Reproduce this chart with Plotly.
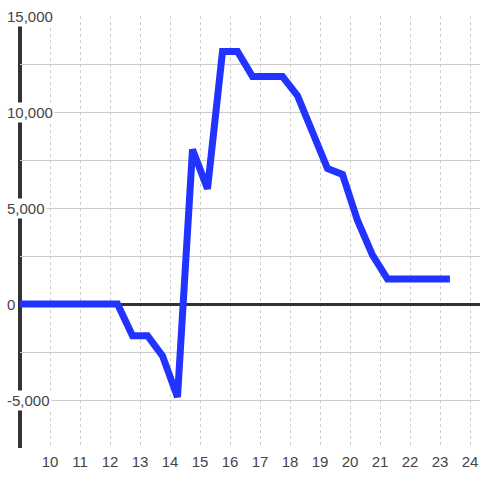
import plotly.graph_objects as go

# data
hours = [9.0, 9.25, 9.75, 10.25, 10.75, 11.25, 11.75, 12.25, 12.75, 13.25, 13.75,
         14.25, 14.75, 15.25, 15.75, 16.25, 16.75, 17.25, 17.75, 18.25, 18.75,
         19.25, 19.75, 20.25, 20.75, 21.25, 21.75, 22.25, 22.75, 23.33]
values = [0, 0, 0, 0, 0, 0, 0, 0, -1650, -1650, -2700,
          -4850, 8050, 6000, 13150, 13150, 11850, 11850, 11850, 10850, 8950,
          7050, 6750, 4350, 2550, 1300, 1300, 1300, 1300, 1300]

x_ticks = list(range(10, 25))
y_tick_vals = [15000, 10000, 5000, 0, -5000]
y_tick_text = ["15,000", "10,000", "5,000", "0", "-5,000"]

W, H = 480, 480
ML, MR, MT, MB = 20, 0, 16, 32
plot_w = W - ML - MR

fig = go.Figure()
fig.add_trace(go.Scatter(
    x=hours, y=values, mode="lines",
    line=dict(color="#2233ff", width=7),
    hoverinfo="skip", showlegend=False,
))

fig.update_layout(
    width=W, height=H,
    margin=dict(l=ML, r=MR, t=MT, b=MB, pad=0, autoexpand=False),
    paper_bgcolor="white", plot_bgcolor="white",
    font=dict(family="Liberation Sans, Arial, sans-serif", size=14, color="#444"),
    showlegend=False,
    xaxis=dict(
        range=[9, 9 + plot_w / 30],
        tickvals=x_ticks, ticktext=[str(t) for t in x_ticks],
        showgrid=True, gridcolor="#cccccc", gridwidth=1, griddash="dot",
        zeroline=False, showline=False, ticks="", automargin=False,
        ticklabelstandoff=3,
        tickfont=dict(size=15, color="#444"),
    ),
    yaxis=dict(
        range=[-7500, 15000],
        dtick=2500, tick0=0,
        showgrid=True, gridcolor="#cccccc", gridwidth=1,
        zeroline=True, zerolinecolor="#333333", zerolinewidth=3,
        showticklabels=False, ticks="", showline=False, automargin=False,
    ),
)

# vertical axis line
fig.add_shape(type="line", xref="paper", yref="paper",
              x0=0, x1=0, y0=0, y1=(H - MB - 24) / (H - MT - MB),
              line=dict(color="#333333", width=4), layer="between")

# y tick labels with background
for v, t in zip(y_tick_vals, y_tick_text):
    fig.add_annotation(
        x=(5 - ML) / plot_w, xref="paper", y=v, yref="y",
        text=t, showarrow=False, xanchor="left", yanchor="middle",
        bgcolor="white", borderpad=1,
        font=dict(size=15, color="#444"),
    )

fig.write_html("out.html", config={"displayModeBar": False},
               post_script="document.body.style.margin='0';document.body.style.overflow='hidden';")
